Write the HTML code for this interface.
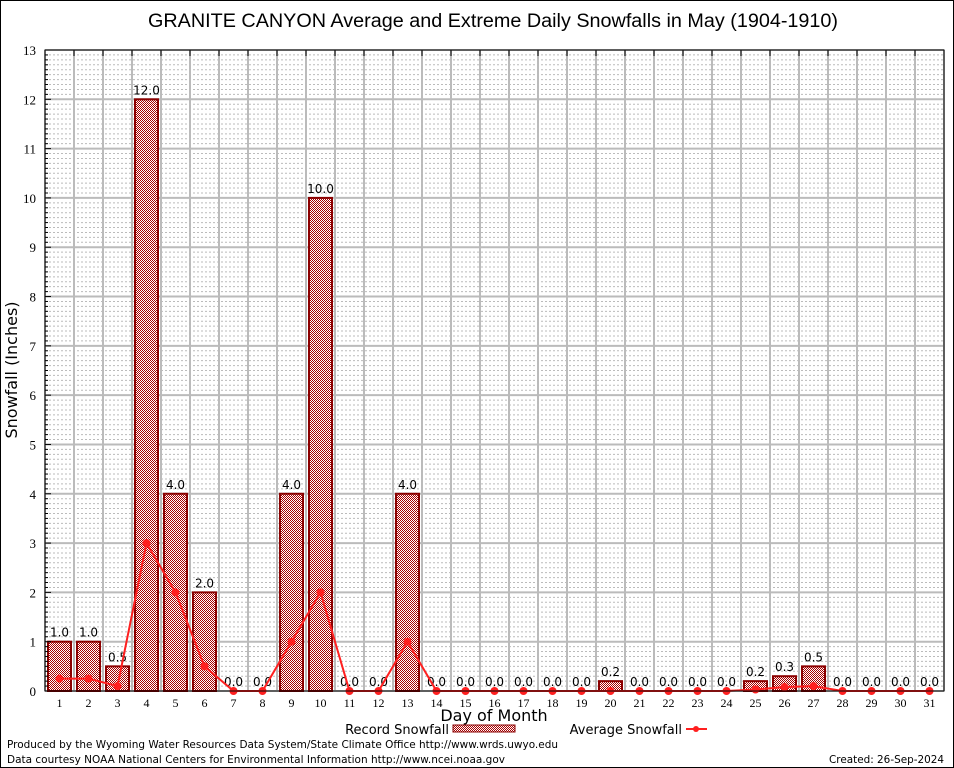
<!DOCTYPE html>
<html><head><meta charset="utf-8"><style>
body{margin:0;background:#fff;}
svg{display:block;font-family:"DejaVu Sans","Liberation Sans",sans-serif;}
</style></head><body>
<svg id="chart" width="954" height="768" viewBox="0 0 954 768" xmlns="http://www.w3.org/2000/svg">
<defs>
<pattern id="chk" width="2" height="2" patternUnits="userSpaceOnUse">
<rect width="2" height="2" fill="#fff"/><rect width="1" height="1" fill="#a80000"/><rect x="1" y="1" width="1" height="1" fill="#a80000"/>
</pattern>
</defs>
<rect x="0.5" y="0.5" width="953" height="767" fill="#fff" stroke="#000"/>
<text x="148" y="27" font-size="19" textLength="690" lengthAdjust="spacingAndGlyphs" font-family="Liberation Sans, sans-serif">GRANITE CANYON Average and Extreme Daily Snowfalls in May (1904-1910)</text>
<g id="grid"></g>
<g id="bars"></g>
<g id="avg"></g>
<g id="axes"></g>
<text transform="translate(17,370) rotate(-90)" font-size="16" text-anchor="middle">Snowfall (Inches)</text>
<text x="494" y="721" font-size="16" text-anchor="middle">Day of Month</text>
<g>
<text x="449" y="734" font-size="13" text-anchor="end">Record Snowfall</text>
<rect x="453" y="725" width="62" height="7" fill="url(#chk)" stroke="#8b0000"/>
</g>
<g>
<text x="682" y="734" font-size="13" text-anchor="end">Average Snowfall</text>
<line x1="686" y1="729" x2="707" y2="729" stroke="#ff2020" stroke-width="2"/>
<circle cx="696" cy="729" r="3" fill="#ff2020"/>
</g>
<text x="7" y="748" font-size="11" textLength="551" lengthAdjust="spacingAndGlyphs">Produced by the Wyoming Water Resources Data System/State Climate Office http://www.wrds.uwyo.edu</text>
<text x="7" y="763" font-size="11" textLength="498" lengthAdjust="spacingAndGlyphs">Data courtesy NOAA National Centers for Environmental Information http://www.ncei.noaa.gov</text>
<text x="829" y="763" font-size="11" textLength="115" lengthAdjust="spacingAndGlyphs">Created: 26-Sep-2024</text>
</svg>
<script>
const days=[1,2,3,4,5,6,7,8,9,10,11,12,13,14,15,16,17,18,19,20,21,22,23,24,25,26,27,28,29,30,31];
const recordSnow=[1.0,1.0,0.5,12.0,4.0,2.0,0,0,4.0,10.0,0,0,4.0,0,0,0,0,0,0,0.2,0,0,0,0,0.2,0.3,0.5,0,0,0,0];
const avgSnow=[0.25,0.25,0.1,3.0,2.0,0.5,0,0,1.0,2.0,0,0,1.0,0,0,0,0,0,0,0,0,0,0,0,0.03,0.08,0.1,0,0,0,0];
const yTicks=[0,1,2,3,4,5,6,7,8,9,10,11,12,13];
const L=45,R=944,T=50,B=691,yMax=13;
const step=(R-L)/days.length;
const x=d=>L+step*(d-0.5);
const y=v=>B-(B-T)*v/yMax;
const NS='http://www.w3.org/2000/svg';
function mk(p,t,a){const e=document.createElementNS(NS,t);for(const k in a)e.setAttribute(k,a[k]);p.appendChild(e);return e;}
const grid=document.getElementById('grid'),bars=document.getElementById('bars'),avg=document.getElementById('avg'),axes=document.getElementById('axes');
for(let v=0.1;v<yMax;v+=0.1){if(Math.abs(v-Math.round(v))<0.01)continue;
 const l=mk(grid,'line',{x1:L,x2:R,y1:y(v),y2:y(v),stroke:'#bbb','stroke-width':1,'stroke-dasharray':'2,2'});
 
 }
yTicks.forEach(v=>{const l=mk(grid,'line',{x1:L,x2:R,y1:y(v),y2:y(v),stroke:'#bbb','stroke-width':2});
 
 
 const t=mk(axes,'text',{x:L-9,y:y(v)+5,'font-size':13,'text-anchor':'end','font-family':'Liberation Serif, serif'});t.textContent=v;
 
 });
for(let i=0;i<=days.length;i++){const xx=L+step*i;
 const l=mk(grid,'line',{x1:xx,x2:xx,y1:T,y2:B,stroke:'#bbb','stroke-width':2});
 
 }
days.forEach((d,i)=>{const v=recordSnow[i];
 if(v>0){const r=mk(bars,'rect',{x:x(d)-11.5,y:y(v),width:23,height:B-y(v),fill:'url(#chk)',stroke:'#8b0000','stroke-width':2});
  
  }
 const t=mk(bars,'text',{x:x(d),y:y(v)-5,'font-size':12,'text-anchor':'middle'});t.textContent=v.toFixed(1);
 
 
 const tl=mk(axes,'text',{x:x(d),y:B+16,'font-size':12,'text-anchor':'middle','font-family':'Liberation Serif, serif'});tl.textContent=d;
 
 
 mk(axes,'line',{x1:L+step*i,x2:L+step*i,y1:T,y2:T+6,stroke:'#000'});
});
const pl=mk(avg,'polyline',{points:days.map((d,i)=>x(d)+','+y(avgSnow[i])).join(' '),fill:'none',stroke:'#ff2020','stroke-width':2});


days.forEach((d,i)=>{const c=mk(avg,'circle',{cx:x(d),cy:y(avgSnow[i]),r:4,fill:'#ff2020'});
 
 });
for(let v=0;v<=yMax+0.001;v+=0.1){const isMaj=Math.abs(v-Math.round(v))<0.01;
 mk(axes,'line',{x1:L,x2:L+(isMaj?6:3),y1:y(v),y2:y(v),stroke:'#000'});}
const fr=mk(axes,'rect',{x:L,y:T,width:R-L,height:B-T,fill:'none',stroke:'#000','stroke-width':1});


</script>
</body></html>
